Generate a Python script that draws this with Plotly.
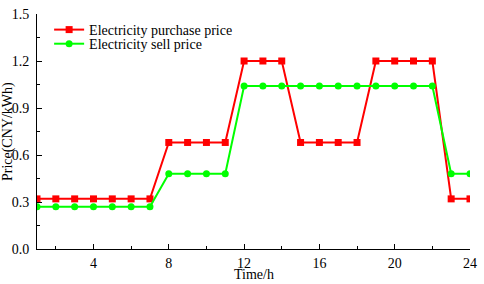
import plotly.graph_objects as go

hours = list(range(1, 25))
purchase = [0.32]*7 + [0.68]*4 + [1.2]*3 + [0.68]*4 + [1.2]*4 + [0.32]*2
sell = [0.27]*7 + [0.48]*4 + [1.04]*11 + [0.48]*2
x_ticks = [4, 8, 12, 16, 20, 24]
y_ticks = [0.0, 0.3, 0.6, 0.9, 1.2, 1.5]

font = dict(family="Liberation Serif, Times New Roman, serif", size=14, color="black")

fig = go.Figure()
fig.add_trace(go.Scatter(x=hours, y=purchase, mode="lines+markers", name="Electricity purchase price",
                         line=dict(color="#FF0000", width=2),
                         marker=dict(symbol="square", size=7, color="#FF0000"),
                         legend="legend"))
fig.add_trace(go.Scatter(x=hours, y=sell, mode="lines+markers", name="Electricity sell price",
                         line=dict(color="#00FF00", width=2),
                         marker=dict(symbol="circle", size=7, color="#00FF00"),
                         legend="legend2"))

leg = dict(xanchor="left", yanchor="top", bgcolor="rgba(0,0,0,0)", font=font, itemwidth=30)
fig.update_layout(
    width=484, height=284,
    margin=dict(l=37, r=7, t=9, b=35),
    paper_bgcolor="white", plot_bgcolor="white",
    font=font,
    showlegend=True,
    legend=dict(x=0.028, y=1.0, **leg),
    legend2=dict(x=0.028, y=0.94, **leg),
    annotations=[
        dict(text="Price(CNY/kWh)", textangle=-90, xref="paper", yref="paper",
             x=-0.068, y=0.5, showarrow=False, font=font, xanchor="center", yanchor="middle"),
        dict(text="Time/h", xref="paper", yref="paper", x=0.5, y=-0.108,
             showarrow=False, font=font, xanchor="center", yanchor="middle"),
    ],
)
fig.update_xaxes(range=[1, 24], tickmode="array", tickvals=x_ticks,
                 showline=True, linecolor="black", linewidth=1, mirror=False,
                 ticks="inside", ticklen=5, tickcolor="black", showgrid=False, zeroline=False,
                 minor=dict(tick0=0, dtick=2, ticks="inside", ticklen=3, tickcolor="black"),
                 tickfont=font, ticklabelstandoff=1)
fig.update_yaxes(range=[0, 1.5], tickmode="array", tickvals=y_ticks, tickformat=".1f",
                 showline=True, linecolor="black", linewidth=1, mirror=False,
                 ticks="inside", ticklen=5, tickcolor="black", showgrid=False, zeroline=False,
                 minor=dict(tick0=0, dtick=0.15, ticks="inside", ticklen=3, tickcolor="black"),
                 tickfont=font, ticklabelstandoff=4)

fig.write_html("out.html", post_script="document.body.style.margin='0px';",
               config={"displayModeBar": False})
